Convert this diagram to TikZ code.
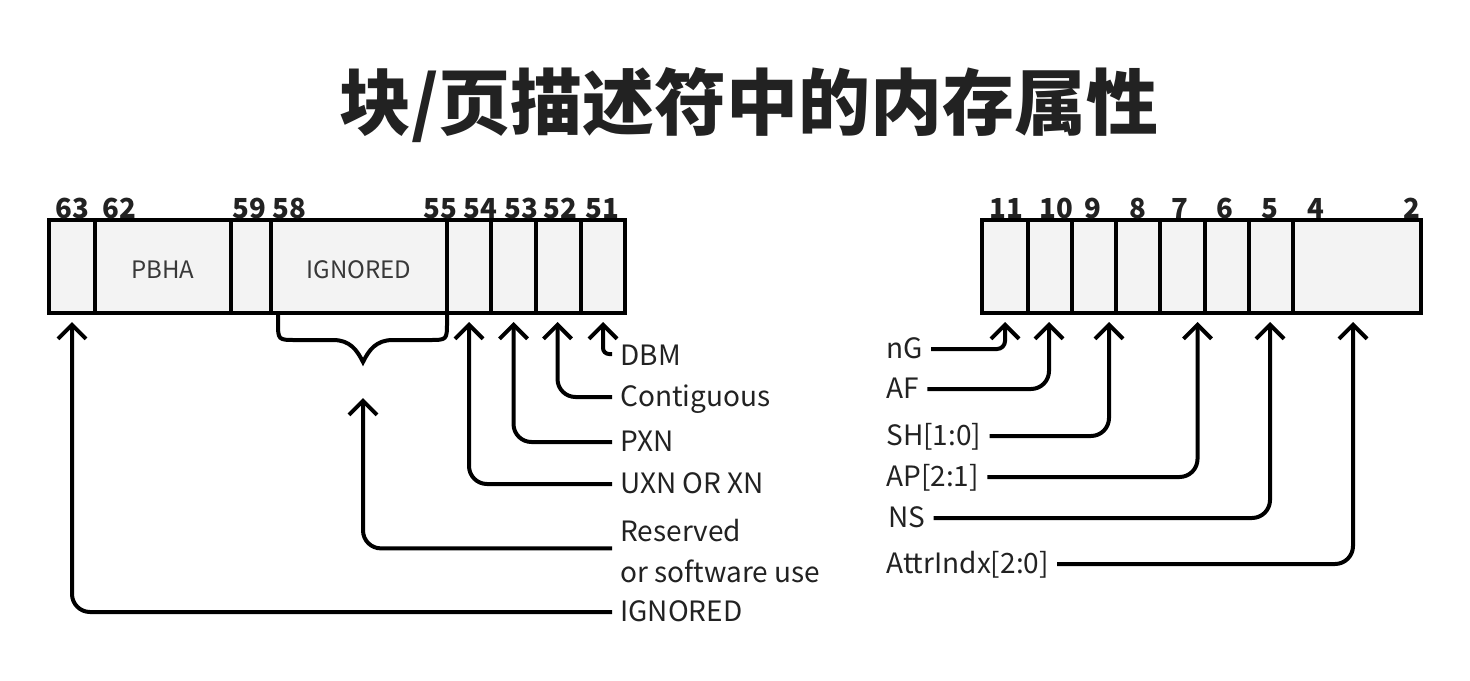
\documentclass[tikz,border=0pt]{standalone}
\usepackage{fontspec}
\setmainfont{Noto Sans CJK SC}
\usetikzlibrary{arrows.meta,calc}
\definecolor{ink}{HTML}{222222}
\definecolor{cellfill}{HTML}{F3F3F3}
\begin{document}
\begin{tikzpicture}[x=0.5pt,y=-0.5pt,
  cell/.style={draw=black, line width=2pt, fill=cellfill, inner sep=0pt, minimum height=46.5pt, font=\fontsize{12}{15}\selectfont, text=ink!90},
  bit/.style={font=\fontsize{13.8}{17}\selectfont\bfseries, text=ink, inner sep=0pt, anchor=base},
  lab/.style={font=\fontsize{14}{17}\selectfont, text=ink, inner sep=0pt, text height=9.5pt, text depth=0pt},
  conn/.style={line width=2pt, rounded corners=9pt, -{Straight Barb[length=7pt,width=14pt]}},
  brace/.style={line width=2pt}]
\useasboundingbox (0,0) rectangle (1470,680);
\fill[white] (0,0) rectangle (1470,680);

\node[font=\fontsize{36}{42}\selectfont\bfseries, text=ink] (title) at (749,105) {块/页描述符中的内存属性};

% left register
\node[cell, minimum width=23pt] (c63) at (72,266.5) {};
\node[cell, minimum width=68pt, text depth=0pt, text height=11.5pt] (c62) at (163,266.5) {PBHA};
\node[cell, minimum width=20pt] (c59) at (251,266.5) {};
\node[cell, minimum width=88pt, text depth=0pt, text height=11.5pt] (c58) at (359,266.5) {IGNORED};
\node[cell, minimum width=22pt] (c54) at (469,266.5) {};
\node[cell, minimum width=22.5pt] (c53) at (513.5,266.5) {};
\node[cell, minimum width=22.5pt] (c52) at (558.5,266.5) {};
\node[cell, minimum width=22pt] (c51) at (603,266.5) {};

\node[bit] (b63) at (72,218) {63};
\node[bit] (b62) at (119,218) {62};
\node[bit] (b59) at (249,218) {59};
\node[bit] (b58) at (289,218) {58};
\node[bit] (b55) at (440,218) {55};
\node[bit] (b54) at (480,218) {54};
\node[bit] (b53) at (521,218) {53};
\node[bit] (b52) at (560,218) {52};
\node[bit] (b51) at (602,218) {51};

% right register
\node[cell, minimum width=23pt] (r11) at (1005,266.5) {};
\node[cell, minimum width=22pt] (r10) at (1050,266.5) {};
\node[cell, minimum width=22pt] (r9) at (1094,266.5) {};
\node[cell, minimum width=22pt] (r8) at (1138,266.5) {};
\node[cell, minimum width=22.5pt] (r7) at (1182.5,266.5) {};
\node[cell, minimum width=22pt] (r6) at (1227,266.5) {};
\node[cell, minimum width=22pt] (r5) at (1271,266.5) {};
\node[cell, minimum width=64pt] (r4) at (1357,266.5) {};

\node[bit] (q11) at (1006,218) {11};
\node[bit] (q10) at (1056,218) {10};
\node[bit] (q9) at (1093,218) {9};
\node[bit] (q8) at (1138,218) {8};
\node[bit] (q7) at (1180,218) {7};
\node[bit] (q6) at (1225,218) {6};
\node[bit] (q5) at (1270,218) {5};
\node[bit] (q4) at (1316,218) {4};
\node[bit] (q2) at (1412,218) {2};

% left labels
\node[lab, anchor=west] (lDBM) at (620,356) {DBM};
\node[lab, anchor=west] (lCon) at (620,397) {Contiguous};
\node[lab, anchor=west] (lPXN) at (620,442) {PXN};
\node[lab, anchor=west] (lUXN) at (620,484) {UXN OR XN};
\node[lab, anchor=west] (lRes) at (620,532) {Reserved};
\node[lab, anchor=west] (lSw) at (620,573) {or software use};
\node[lab, anchor=west] (lIgn) at (620,612) {IGNORED};

% brace
\draw[brace] (278,311) -- (278,322) .. controls (278,340) .. (296,340) -- (333,340)
  .. controls (350,340) and (357,350) .. (363,362)
  .. controls (369,350) and (376,340) .. (393,340) -- (429,340)
  .. controls (447,340) .. (447,322) -- (447,311);
\coordinate (bracetip) at (363,398);

\draw[conn, rounded corners=3pt] ($(lDBM.west)+(-8,-2)$) -| ($(c51.south)+(0,7)$);
\draw[conn] ($(lCon.west)+(-8,0)$) -| ($(c52.south)+(-1,7)$);
\draw[conn] ($(lPXN.west)+(-8,0)$) -| ($(c53.south)+(0,7)$);
\draw[conn] ($(lUXN.west)+(-8,0)$) -| ($(c54.south)+(0,7)$);
\draw[conn] ($(lRes.west)!0.4!(lSw.west)+(-8,0)$) -| (bracetip);
\draw[conn] ($(lIgn.west)+(-8,0)$) -| ($(c63.south)+(0,7)$);

% right labels
\node[lab, anchor=west] (nG) at (886,349) {nG};
\node[lab, anchor=west] (AF) at (886,389) {AF};
\node[lab, anchor=west] (SH) at (886,436) {SH[1:0]};
\node[lab, anchor=west] (AP) at (886,477) {AP[2:1]};
\node[lab, anchor=west] (NS) at (888,518) {NS};
\node[lab, anchor=west] (AI) at (886,564) {AttrIndx[2:0]};

\draw[conn, rounded corners=4pt] ($(nG.east)+(8,0)$) -| ($(r11.south)+(0,7)$);
\draw[conn] ($(AF.east)+(8,0)$) -| ($(r10.south)+(-1,7)$);
\draw[conn] ($(SH.east)+(8,0)$) -| ($(r9.south)+(15,7)$);
\draw[conn] ($(AP.east)+(8,0)$) -| ($(r7.south)+(15,7)$);
\draw[conn] ($(NS.east)+(8,0)$) -| ($(r5.south)+(-1,7)$);
\draw[conn] ($(AI.east)+(8,0)$) -| ($(r4.south)+(-4,7)$);
\end{tikzpicture}
\end{document}
